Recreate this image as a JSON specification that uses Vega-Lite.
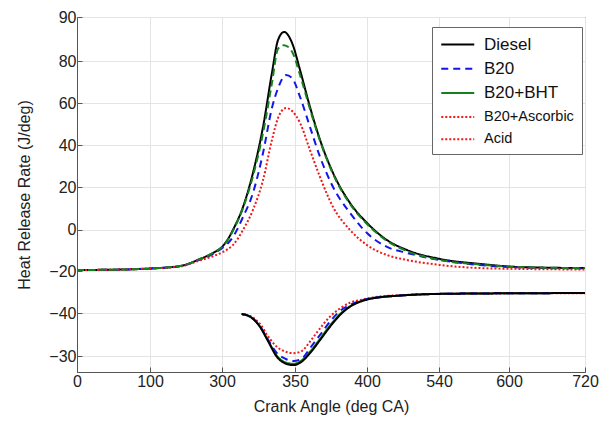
{
  "$schema": "https://vega.github.io/schema/vega-lite/v6.json",
  "width": 508,
  "height": 355,
  "autosize": {"type": "none"},
  "padding": {"left": 77, "top": 17, "right": 28, "bottom": 51},
  "background": "white",
  "config": {
    "font": "Liberation Sans",
    "view": {"stroke": "#555", "strokeWidth": 1},
    "axis": {
      "labelFont": "Liberation Sans", "labelFontSize": 16, "labelColor": "#222",
      "titleFont": "Liberation Sans", "titleFontSize": 16, "titleFontWeight": "normal", "titleColor": "#222",
      "gridColor": "#e4e4e4", "gridWidth": 1, "domainColor": "#555", "tickColor": "#555",
      "tickSize": -5, "labelPadding": 6, "labelFlush": false, "labelOverlap": false
    },
    "legend": {
      "orient": "none", "legendX": 355, "legendY": 10,
      "strokeColor": "#666", "fillColor": "white", "padding": 8,
      "labelFont": "Liberation Sans", "labelFontSize": 16, "labelColor": "#111",
      "symbolType": "M-1,0H3", "symbolSize": 272, "symbolStrokeWidth": 2,
      "labelOffset": 25, "rowPadding": 6.2
    }
  },
  "data": {"values": [
    {"a":0,"v":-19.5,"s":"Diesel","p":"u"},{"a":45.2,"v":-19.4,"s":"Diesel","p":"u"},{"a":100,"v":-18.8,"s":"Diesel","p":"u"},{"a":183.3,"v":-17.6,"s":"Diesel","p":"u"},{"a":238.9,"v":-14.2,"s":"Diesel","p":"u"},{"a":275,"v":-11.3,"s":"Diesel","p":"u"},{"a":300.7,"v":-7.9,"s":"Diesel","p":"u"},{"a":304.1,"v":-4.6,"s":"Diesel","p":"u"},{"a":307.5,"v":-0.2,"s":"Diesel","p":"u"},{"a":314.4,"v":10.6,"s":"Diesel","p":"u"},{"a":321.2,"v":26.7,"s":"Diesel","p":"u"},{"a":328.1,"v":48.6,"s":"Diesel","p":"u"},{"a":334.2,"v":74.3,"s":"Diesel","p":"u"},{"a":338.4,"v":84.8,"s":"Diesel","p":"u"},{"a":342.5,"v":86.6,"s":"Diesel","p":"u"},{"a":348,"v":84.1,"s":"Diesel","p":"u"},{"a":353.5,"v":75.7,"s":"Diesel","p":"u"},{"a":360.4,"v":58.1,"s":"Diesel","p":"u"},{"a":367.4,"v":42.4,"s":"Diesel","p":"u"},{"a":376.4,"v":26.7,"s":"Diesel","p":"u"},{"a":388.2,"v":12.5,"s":"Diesel","p":"u"},{"a":400,"v":3.1,"s":"Diesel","p":"u"},{"a":438.9,"v":-5.1,"s":"Diesel","p":"u"},{"a":477.8,"v":-9.9,"s":"Diesel","p":"u"},{"a":540.9,"v":-14.2,"s":"Diesel","p":"u"},{"a":575.1,"v":-16.6,"s":"Diesel","p":"u"},{"a":617.4,"v":-18.1,"s":"Diesel","p":"u"},{"a":720,"v":-18.6,"s":"Diesel","p":"u"},

    {"a":0,"v":-19.5,"s":"B20+BHT","p":"u"},{"a":45.2,"v":-19.4,"s":"B20+BHT","p":"u"},{"a":100,"v":-18.8,"s":"B20+BHT","p":"u"},{"a":183.3,"v":-17.6,"s":"B20+BHT","p":"u"},{"a":238.9,"v":-14.2,"s":"B20+BHT","p":"u"},{"a":275,"v":-11.3,"s":"B20+BHT","p":"u"},{"a":300.7,"v":-8.0,"s":"B20+BHT","p":"u"},{"a":304.1,"v":-4.9,"s":"B20+BHT","p":"u"},{"a":307.5,"v":-0.6,"s":"B20+BHT","p":"u"},{"a":314.4,"v":10.1,"s":"B20+BHT","p":"u"},{"a":321.2,"v":25.2,"s":"B20+BHT","p":"u"},{"a":328.1,"v":45.7,"s":"B20+BHT","p":"u"},{"a":334.2,"v":69.5,"s":"B20+BHT","p":"u"},{"a":338.4,"v":82.8,"s":"B20+BHT","p":"u"},{"a":342.5,"v":83.6,"s":"B20+BHT","p":"u"},{"a":348,"v":82.1,"s":"B20+BHT","p":"u"},{"a":353.5,"v":73.3,"s":"B20+BHT","p":"u"},{"a":360.4,"v":57.1,"s":"B20+BHT","p":"u"},{"a":367.4,"v":41.9,"s":"B20+BHT","p":"u"},{"a":376.4,"v":26.2,"s":"B20+BHT","p":"u"},{"a":388.2,"v":12.0,"s":"B20+BHT","p":"u"},{"a":400,"v":2.6,"s":"B20+BHT","p":"u"},{"a":438.9,"v":-5.5,"s":"B20+BHT","p":"u"},{"a":477.8,"v":-10.4,"s":"B20+BHT","p":"u"},{"a":540.9,"v":-14.7,"s":"B20+BHT","p":"u"},{"a":575.1,"v":-16.9,"s":"B20+BHT","p":"u"},{"a":617.4,"v":-18.1,"s":"B20+BHT","p":"u"},{"a":720,"v":-18.6,"s":"B20+BHT","p":"u"},

    {"a":0,"v":-19.5,"s":"B20","p":"u"},{"a":45.2,"v":-19.4,"s":"B20","p":"u"},{"a":100,"v":-18.8,"s":"B20","p":"u"},{"a":183.3,"v":-17.7,"s":"B20","p":"u"},{"a":238.9,"v":-14.5,"s":"B20","p":"u"},{"a":275,"v":-11.8,"s":"B20","p":"u"},{"a":300.7,"v":-8.6,"s":"B20","p":"u"},{"a":304.1,"v":-6.6,"s":"B20","p":"u"},{"a":307.5,"v":-3.6,"s":"B20","p":"u"},{"a":314.4,"v":5.9,"s":"B20","p":"u"},{"a":321.2,"v":17.2,"s":"B20","p":"u"},{"a":328.1,"v":36.2,"s":"B20","p":"u"},{"a":334.2,"v":57.6,"s":"B20","p":"u"},{"a":338.4,"v":67.1,"s":"B20","p":"u"},{"a":343.8,"v":73.3,"s":"B20","p":"u"},{"a":348,"v":71.9,"s":"B20","p":"u"},{"a":353.5,"v":62.9,"s":"B20","p":"u"},{"a":360.4,"v":48.6,"s":"B20","p":"u"},{"a":367.4,"v":34.3,"s":"B20","p":"u"},{"a":376.4,"v":20.0,"s":"B20","p":"u"},{"a":388.2,"v":7.8,"s":"B20","p":"u"},{"a":400,"v":-1.7,"s":"B20","p":"u"},{"a":438.9,"v":-8.4,"s":"B20","p":"u"},{"a":477.8,"v":-11.3,"s":"B20","p":"u"},{"a":540.9,"v":-14.7,"s":"B20","p":"u"},{"a":575.1,"v":-17.1,"s":"B20","p":"u"},{"a":617.4,"v":-18.3,"s":"B20","p":"u"},{"a":720,"v":-18.8,"s":"B20","p":"u"},

    {"a":0,"v":-19.5,"s":"B20+Ascorbic","p":"u"},{"a":45.2,"v":-19.4,"s":"B20+Ascorbic","p":"u"},{"a":100,"v":-18.8,"s":"B20+Ascorbic","p":"u"},{"a":183.3,"v":-17.8,"s":"B20+Ascorbic","p":"u"},{"a":238.9,"v":-14.9,"s":"B20+Ascorbic","p":"u"},{"a":275,"v":-12.9,"s":"B20+Ascorbic","p":"u"},{"a":300.7,"v":-10.8,"s":"B20+Ascorbic","p":"u"},{"a":304.1,"v":-9.4,"s":"B20+Ascorbic","p":"u"},{"a":307.5,"v":-7.5,"s":"B20+Ascorbic","p":"u"},{"a":314.4,"v":-0.2,"s":"B20+Ascorbic","p":"u"},{"a":321.2,"v":9.2,"s":"B20+Ascorbic","p":"u"},{"a":328.1,"v":23.3,"s":"B20+Ascorbic","p":"u"},{"a":334.2,"v":42.4,"s":"B20+Ascorbic","p":"u"},{"a":338.4,"v":52.9,"s":"B20+Ascorbic","p":"u"},{"a":343.8,"v":57.6,"s":"B20+Ascorbic","p":"u"},{"a":348,"v":56.2,"s":"B20+Ascorbic","p":"u"},{"a":353.5,"v":50.5,"s":"B20+Ascorbic","p":"u"},{"a":360.4,"v":37.6,"s":"B20+Ascorbic","p":"u"},{"a":367.4,"v":24.7,"s":"B20+Ascorbic","p":"u"},{"a":376.4,"v":10.6,"s":"B20+Ascorbic","p":"u"},{"a":388.2,"v":-0.2,"s":"B20+Ascorbic","p":"u"},{"a":400,"v":-7.5,"s":"B20+Ascorbic","p":"u"},{"a":438.9,"v":-12.3,"s":"B20+Ascorbic","p":"u"},{"a":477.8,"v":-14.7,"s":"B20+Ascorbic","p":"u"},{"a":540.9,"v":-17.1,"s":"B20+Ascorbic","p":"u"},{"a":575.1,"v":-18.6,"s":"B20+Ascorbic","p":"u"},{"a":617.4,"v":-19.0,"s":"B20+Ascorbic","p":"u"},{"a":720,"v":-19.3,"s":"B20+Ascorbic","p":"u"},

    {"a":313.5,"v":-40.5,"s":"B20+BHT","p":"l"},{"a":319.2,"v":-41.7,"s":"B20+BHT","p":"l"},{"a":326.0,"v":-46.3,"s":"B20+BHT","p":"l"},{"a":331.7,"v":-53.0,"s":"B20+BHT","p":"l"},{"a":337.5,"v":-59.8,"s":"B20+BHT","p":"l"},{"a":343.2,"v":-62.9,"s":"B20+BHT","p":"l"},{"a":348.8,"v":-63.6,"s":"B20+BHT","p":"l"},{"a":354.7,"v":-62.0,"s":"B20+BHT","p":"l"},{"a":360.4,"v":-58.0,"s":"B20+BHT","p":"l"},{"a":367.4,"v":-52.0,"s":"B20+BHT","p":"l"},{"a":374.3,"v":-45.8,"s":"B20+BHT","p":"l"},{"a":381.3,"v":-40.5,"s":"B20+BHT","p":"l"},{"a":388.2,"v":-36.8,"s":"B20+BHT","p":"l"},{"a":397.4,"v":-34.0,"s":"B20+BHT","p":"l"},{"a":425.3,"v":-32.5,"s":"B20+BHT","p":"l"},{"a":457.8,"v":-31.8,"s":"B20+BHT","p":"l"},{"a":522.5,"v":-31.0,"s":"B20+BHT","p":"l"},{"a":575.1,"v":-30.7,"s":"B20+BHT","p":"l"},{"a":720,"v":-30.5,"s":"B20+BHT","p":"l"},

    {"a":313.5,"v":-40.5,"s":"Acid","p":"l"},{"a":319.2,"v":-41.4,"s":"Acid","p":"l"},{"a":326.0,"v":-45.1,"s":"Acid","p":"l"},{"a":331.7,"v":-51.0,"s":"Acid","p":"l"},{"a":337.5,"v":-55.7,"s":"Acid","p":"l"},{"a":343.2,"v":-57.9,"s":"Acid","p":"l"},{"a":348.8,"v":-58.7,"s":"Acid","p":"l"},{"a":354.7,"v":-57.7,"s":"Acid","p":"l"},{"a":360.4,"v":-53.3,"s":"Acid","p":"l"},{"a":367.4,"v":-47.1,"s":"Acid","p":"l"},{"a":374.3,"v":-41.7,"s":"Acid","p":"l"},{"a":381.3,"v":-37.8,"s":"Acid","p":"l"},{"a":388.2,"v":-35.1,"s":"Acid","p":"l"},{"a":397.4,"v":-33.5,"s":"Acid","p":"l"},{"a":425.3,"v":-32.1,"s":"Acid","p":"l"},{"a":457.8,"v":-31.6,"s":"Acid","p":"l"},{"a":522.5,"v":-31.0,"s":"Acid","p":"l"},{"a":575.1,"v":-30.7,"s":"Acid","p":"l"},{"a":720,"v":-30.6,"s":"Acid","p":"l"},

    {"a":313.5,"v":-40.5,"s":"B20","p":"l"},{"a":319.2,"v":-41.7,"s":"B20","p":"l"},{"a":326.0,"v":-46.2,"s":"B20","p":"l"},{"a":331.7,"v":-52.6,"s":"B20","p":"l"},{"a":337.5,"v":-58.6,"s":"B20","p":"l"},{"a":343.2,"v":-61.2,"s":"B20","p":"l"},{"a":348.8,"v":-62.3,"s":"B20","p":"l"},{"a":354.7,"v":-61.2,"s":"B20","p":"l"},{"a":360.4,"v":-56.4,"s":"B20","p":"l"},{"a":367.4,"v":-50.2,"s":"B20","p":"l"},{"a":374.3,"v":-44.0,"s":"B20","p":"l"},{"a":381.3,"v":-39.0,"s":"B20","p":"l"},{"a":388.2,"v":-36.2,"s":"B20","p":"l"},{"a":397.4,"v":-33.8,"s":"B20","p":"l"},{"a":425.3,"v":-32.4,"s":"B20","p":"l"},{"a":457.8,"v":-31.8,"s":"B20","p":"l"},{"a":522.5,"v":-31.0,"s":"B20","p":"l"},{"a":575.1,"v":-30.7,"s":"B20","p":"l"},{"a":720,"v":-30.5,"s":"B20","p":"l"},

    {"a":313.5,"v":-40.5,"s":"Diesel","p":"l"},{"a":319.2,"v":-41.7,"s":"Diesel","p":"l"},{"a":326.0,"v":-46.4,"s":"Diesel","p":"l"},{"a":331.7,"v":-53.3,"s":"Diesel","p":"l"},{"a":337.5,"v":-60.3,"s":"Diesel","p":"l"},{"a":343.2,"v":-63.4,"s":"Diesel","p":"l"},{"a":348.8,"v":-64.2,"s":"Diesel","p":"l"},{"a":354.7,"v":-62.6,"s":"Diesel","p":"l"},{"a":360.4,"v":-58.7,"s":"Diesel","p":"l"},{"a":367.4,"v":-52.6,"s":"Diesel","p":"l"},{"a":374.3,"v":-46.4,"s":"Diesel","p":"l"},{"a":381.3,"v":-40.9,"s":"Diesel","p":"l"},{"a":388.2,"v":-37.0,"s":"Diesel","p":"l"},{"a":397.4,"v":-34.1,"s":"Diesel","p":"l"},{"a":425.3,"v":-32.5,"s":"Diesel","p":"l"},{"a":457.8,"v":-31.8,"s":"Diesel","p":"l"},{"a":522.5,"v":-31.0,"s":"Diesel","p":"l"},{"a":575.1,"v":-30.7,"s":"Diesel","p":"l"},{"a":720,"v":-30.5,"s":"Diesel","p":"l"}
  ]},
  "encoding": {
    "x": {
      "field": "a", "type": "quantitative",
      "scale": {"domain": [0, 100, 300, 350, 400, 540, 600, 720], "range": [0, 73, 145, 218, 290, 362, 432, 508], "nice": false, "zero": false},
      "axis": {"values": [0, 100, 300, 350, 400, 540, 600, 720], "title": "Crank Angle (deg CA)", "titlePadding": 9}
    },
    "y": {
      "field": "v", "type": "quantitative",
      "scale": {"domain": [-67.4, -60, -40, -20, 0, 20, 40, 60, 80, 90], "range": [355, 339, 296, 254, 212.5, 170, 128, 86, 44, 0], "nice": false, "zero": false},
      "axis": {"values": [-60, -40, -20, 0, 20, 40, 60, 80, 90], "labelExpr": "datum.value == -60 ? '\u221230' : datum.label", "title": "Heat Release Rate (J/deg)", "titlePadding": 16}
    }
  },
  "layer": [
    {
      "transform": [{"filter": "!(datum.s == 'B20+BHT' && datum.p == 'u')"}],
      "mark": {"type": "line", "interpolate": "monotone", "strokeWidth": 2},
      "encoding": {
        "color": {"field": "s", "type": "nominal", "title": null,
          "scale": {"domain": ["Diesel", "B20", "B20+BHT", "B20+Ascorbic", "Acid"], "range": ["#000000", "#1515e8", "#16801e", "#f01818", "#f01818"]},
          "legend": {"encode": {"labels": {"update": {"fontSize": {"signal": "datum.label == 'B20+Ascorbic' || datum.label == 'Acid' ? 14.5 : 17"}}}}}},
        "strokeDash": {"field": "s", "type": "nominal", "title": null,
          "scale": {"domain": ["Diesel", "B20", "B20+BHT", "B20+Ascorbic", "Acid"], "range": [[1, 0], [7, 5], [1, 0], [2, 2], [2, 2]]},
          "legend": {"encode": {"labels": {"update": {"fontSize": {"signal": "datum.label == 'B20+Ascorbic' || datum.label == 'Acid' ? 14.5 : 17"}}}}}},
        "detail": {"field": "p"}
      }
    },
    {
      "transform": [{"filter": "datum.s == 'B20+BHT' && datum.p == 'u'"}],
      "mark": {"type": "line", "interpolate": "monotone", "strokeWidth": 2, "color": "#16801e", "strokeDash": [7, 4]},
      "encoding": {}
    }
  ]
}
